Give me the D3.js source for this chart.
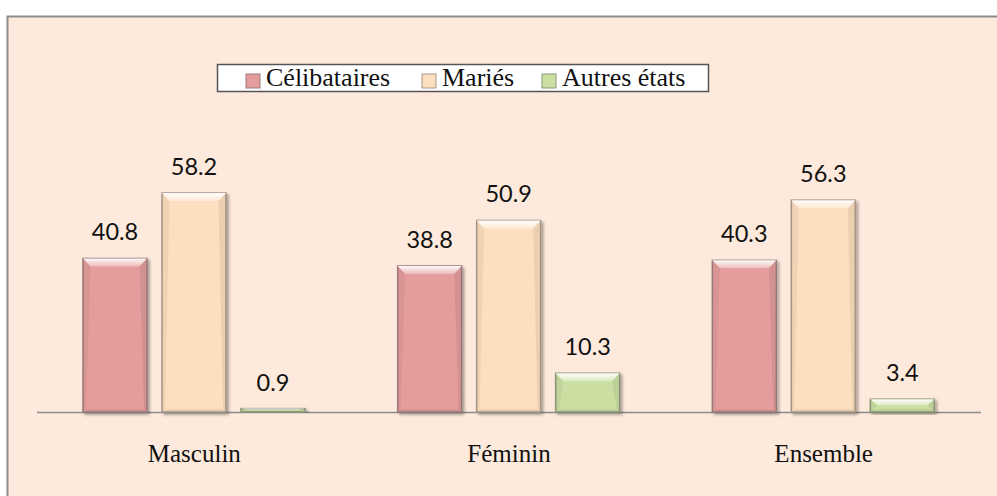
<!DOCTYPE html>
<html>
<head>
<meta charset="utf-8">
<script src="https://cdn.jsdelivr.net/npm/d3@7"></script>
<style>
  body { margin: 0; background: #fff; }
  svg { display: block; }
</style>
</head>
<body>
<svg width="997" height="496"></svg>
<script>
let categories = ['Masculin', 'Féminin', 'Ensemble'];
let series = ['Célibataires', 'Mariés', 'Autres états'];
let celibataires = [40.8, 38.8, 40.3];
let maries = [58.2, 50.9, 56.3];
let autres = [0.9, 10.3, 3.4];
let colors = ['#e59c9c', '#fddfbf', '#cbdfa3'];
let edges = ['#9c7c7c', '#a8988a', '#8c9878'];

let values = [celibataires, maries, autres];
let svg = d3.select('svg');

// frame + background
svg.append('rect').attr('x', 0).attr('y', 0).attr('width', 997).attr('height', 496).attr('fill', '#fff');
svg.append('rect').attr('x', 7.5).attr('y', 16.5).attr('width', 1000).attr('height', 500)
    .attr('fill', '#fdeadc').attr('stroke', '#8c8c8c').attr('stroke-width', 2);

let defs = svg.append('defs');
let f = defs.append('filter').attr('id', 'shadow').attr('x', '-20%').attr('y', '-20%').attr('width', '140%').attr('height', '140%');
f.append('feDropShadow').attr('dx', 2).attr('dy', 2).attr('stdDeviation', 1.5)
    .attr('flood-color', '#000').attr('flood-opacity', 0.35);
let g = defs.append('linearGradient').attr('id', 'topbevel').attr('x1', 0).attr('y1', 0).attr('x2', 0).attr('y2', 1);
g.append('stop').attr('offset', 0).attr('stop-color', '#fff').attr('stop-opacity', 0.95);
g.append('stop').attr('offset', 1).attr('stop-color', '#fff').attr('stop-opacity', 0.3);

let x0 = d3.scaleBand().domain(categories).range([37, 981]).padding(0);
let x1 = d3.scaleBand().domain(series).range([46, 268]).paddingInner(0.19);
let y = d3.scaleLinear().domain([0, 70]).range([412, 148.6]);

// axis line
svg.append('line').attr('x1', 37).attr('x2', 981).attr('y1', y(0) + 0.5).attr('y2', y(0) + 0.5)
    .attr('stroke', '#8c8c8c').attr('stroke-width', 1.5);

let data = [];
categories.forEach(function(c, i) {
    series.forEach(function(s, j) {
        data.push({cat: c, ser: s, j: j, v: values[j][i]});
    });
});

let bars = svg.selectAll('g.bar').data(data).enter().append('g').attr('class', 'bar');

bars.each(function(d) {
    let sel = d3.select(this);
    let bx = x0(d.cat) + x1(d.ser), bw = x1.bandwidth();
    let by = y(d.v), bh = y(0) - y(d.v);
    sel.append('rect').attr('x', bx).attr('y', by).attr('width', bw).attr('height', bh)
        .attr('fill', colors[d.j]).attr('stroke', edges[d.j]).attr('stroke-width', 1.5)
        .attr('filter', 'url(#shadow)');
    let t = Math.min(8, bh / 2), s = Math.min(3, bw / 2);
    if (bh > 2) {
        // top bevel
        sel.append('polygon')
            .attr('points', [[bx, by], [bx + bw, by], [bx + bw - s * 2.5, by + t], [bx + s * 2.5, by + t]].join(' '))
            .attr('fill', 'url(#topbevel)');
        // side bevels
        sel.append('polygon')
            .attr('points', [[bx, by], [bx + s * 2.5, by + t], [bx + s, y(0) - s], [bx, y(0)]].join(' '))
            .attr('fill', '#000').attr('opacity', 0.05);
        sel.append('polygon')
            .attr('points', [[bx + bw, by], [bx + bw - s * 2.5, by + t], [bx + bw - s, y(0) - s], [bx + bw, y(0)]].join(' '))
            .attr('fill', '#000').attr('opacity', 0.07);
        sel.append('polygon')
            .attr('points', [[bx, y(0)], [bx + s, y(0) - s], [bx + bw - s, y(0) - s], [bx + bw, y(0)]].join(' '))
            .attr('fill', '#000').attr('opacity', 0.06);
    }
    sel.append('text').attr('x', bx + bw / 2).attr('y', by - 18)
        .attr('text-anchor', 'middle').attr('font-family', 'Lato, sans-serif').attr('font-size', 23.5)
        .attr('fill', '#111').text(d.v.toFixed(1));
});

// category labels
svg.selectAll('text.cat').data(categories).enter().append('text').attr('class', 'cat')
    .attr('x', function(d) { return x0(d) + x0.bandwidth() / 2; }).attr('y', 462)
    .attr('text-anchor', 'middle').attr('font-family', '"Liberation Serif", "Times New Roman", serif')
    .attr('font-size', 25).attr('fill', '#111').text(function(d) { return d; });

// legend
let legend = svg.append('g');
legend.append('rect').attr('x', 217.5).attr('y', 64.5).attr('width', 491).attr('height', 27)
    .attr('fill', '#fff').attr('stroke', '#555').attr('stroke-width', 1.5);
let lx = [246, 422, 542];
series.forEach(function(s, i) {
    legend.append('rect').attr('x', lx[i]).attr('y', 74).attr('width', 14).attr('height', 14)
        .attr('fill', colors[i]).attr('stroke', edges[i]).attr('stroke-width', 1);
    legend.append('text').attr('x', lx[i] + 20).attr('y', 86)
        .attr('font-family', '"Liberation Serif", "Times New Roman", serif').attr('font-size', 26)
        .attr('fill', '#111').text(s);
});
</script>
</body>
</html>
